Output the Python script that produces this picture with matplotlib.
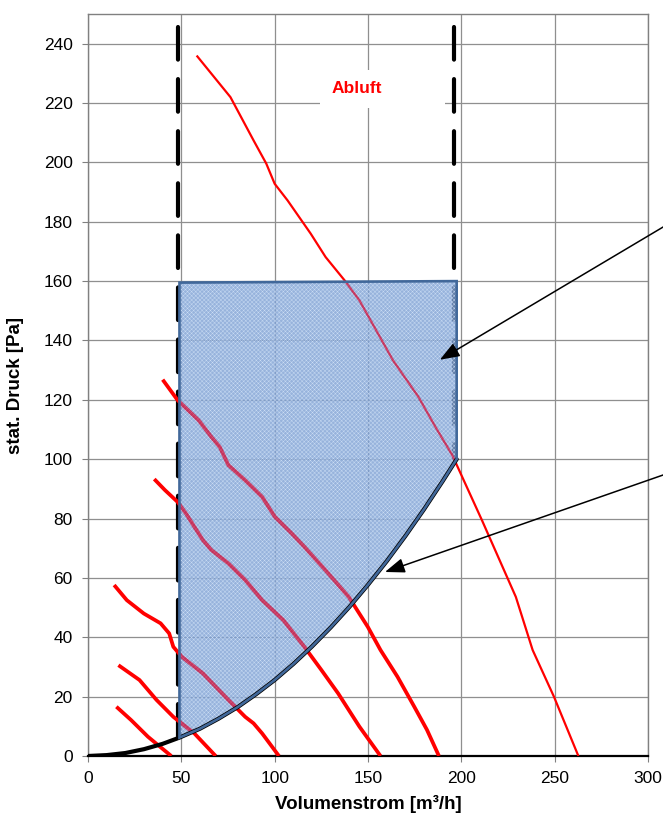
import matplotlib
matplotlib.use("Agg")
import matplotlib.pyplot as plt
from matplotlib.patches import Polygon, Rectangle
import numpy as np

plt.rcParams['font.family'] = ['Liberation Sans', 'DejaVu Sans']
plt.rcParams['lines.scale_dashes'] = False

# ---------------- data ----------------
x_ticks = [0, 50, 100, 150, 200, 250, 300]
y_ticks = [0, 20, 40, 60, 80, 100, 120, 140, 160, 180, 200, 220, 240]

# system curve (black)
sys_x = [0, 10, 20, 30, 40, 49, 60, 70, 80, 90, 100, 110, 120, 130, 140, 150, 160, 170, 180, 190, 197.5]
sys_y = [0, 0.3, 1.0, 2.3, 4.1, 6.2, 9.2, 12.6, 16.4, 20.8, 25.6, 31.0, 36.9, 43.3, 50.2, 57.7, 65.6, 74.1, 83.1, 92.6, 100]

# fan curves (red)
fan1_x = [58.2, 76.3, 88.7, 95.5, 100, 106.9, 119.3, 127.3, 137.4, 145.4, 154.4, 163.4, 177, 186.1, 195.2, 211, 229.2, 238.2, 249.6, 262.7]
fan1_y = [236, 222, 207.4, 199.6, 192.8, 187.2, 176, 168.1, 160.3, 153.5, 143.4, 133.3, 121, 110.9, 101.3, 79.5, 53.6, 35.7, 20, 0]

fan2_x = [40, 48, 59.3, 66.1, 70.6, 75.2, 84.2, 93.3, 100.1, 109.1, 115.9, 127.2, 139.7, 149.9, 156.7, 165.8, 174.8, 181.6, 188]
fan2_y = [126.8, 119.9, 113.1, 107.5, 104.1, 98, 92.9, 87.3, 80.6, 75, 70.5, 62.6, 53.6, 43.5, 35.7, 26.7, 16.6, 8.8, 0]

fan3_x = [35.5, 41.2, 48, 52.5, 57, 61.6, 66.1, 75.2, 84.2, 93.3, 104.6, 115.9, 125, 134, 145.4, 156.7]
fan3_y = [93.3, 89.6, 85.6, 81.7, 77.2, 72.7, 69.4, 64.9, 59.3, 52.5, 45.8, 36.8, 29, 21.1, 9.9, 0]

fan4_x = [14, 20.8, 29.9, 38.9, 43.5, 45.7, 50.3, 61.6, 75.2, 84.2, 88.7, 93.3, 102.3]
fan4_y = [57.6, 52.5, 48, 44.7, 41.3, 36.8, 33.4, 27.8, 18.9, 13.2, 11, 7.6, 0]

fan5_x = [16.3, 27.6, 36.7, 45.7, 57, 68.4]
fan5_y = [30.6, 25.6, 18.9, 13.2, 7.6, 0]

fan6_x = [15.2, 23.1, 32.1, 44.6]
fan6_y = [16.6, 12.1, 6.5, 0]

# operating range limits
q_min, q_max = 49, 197.5
dash_min, dash_max = 48, 196.3
p_top_left, p_top_right = 159.5, 160
dash_top = 245.5

# ---------------- figure ----------------
fig = plt.figure(figsize=(6.63, 8.15), dpi=100)
ax = fig.add_axes([88 / 663, 1 - 756 / 815, (648 - 88) / 663, (756 - 14) / 815])
ax.set_xlim(0, 300)
ax.set_ylim(0, 250)
ax.set_xticks(x_ticks)
ax.set_yticks(y_ticks)
ax.tick_params(axis='both', labelsize=12.5, length=4, width=0.8, color='#808080', pad=7)
ax.grid(True, color='#8F8F8F', lw=0.9, zorder=0)
ax.set_axisbelow(True)
for s in ['left', 'top', 'right']:
    ax.spines[s].set_color('#808080')
    ax.spines[s].set_linewidth(1.0)
ax.spines['bottom'].set_color('black')
ax.spines['bottom'].set_linewidth(1.6)

ax.set_xlabel('Volumenstrom [m³/h]', fontsize=13.5, fontweight='bold', labelpad=6)
ax.set_ylabel('stat. Druck [Pa]', fontsize=13.5, fontweight='bold', labelpad=14)

# white label box + text
ax.add_patch(Rectangle((124.3, 218.2), 66.9, 12.8, facecolor='white', edgecolor='none', zorder=1))
ax.text(144, 224.9, 'Abluft', color='red', fontsize=12.5, fontweight='bold', ha='center', va='center', zorder=2)

# dashed limit lines
for xd, ybot in [(dash_min, 6.0), (dash_max, 100)]:
    ax.plot([xd, xd], [dash_top, ybot], color='black', lw=3, dashes=(23.5, 14),
            dash_capstyle='round', zorder=2.5)

# red fan curves (full)
fans = [(fan1_x, fan1_y, 1.6), (fan2_x, fan2_y, 2.7), (fan3_x, fan3_y, 2.7),
        (fan4_x, fan4_y, 2.7), (fan5_x, fan5_y, 2.7), (fan6_x, fan6_y, 2.7)]
for fx, fy, lw in fans:
    ax.plot(fx, fy, color='red', lw=lw, zorder=2.6, solid_capstyle='butt', solid_joinstyle='round')

# operating polygon built from the system curve
sx = np.array(sys_x)
sy = np.array(sys_y)
mask = (sx > q_min) & (sx < q_max)
poly = [(q_min, np.interp(q_min, sx, sy)), (q_min, p_top_left), (q_max, p_top_right),
        (q_max, np.interp(q_max, sx, sy))]
poly += list(zip(sx[mask][::-1], sy[mask][::-1]))

fill = Polygon(poly, closed=True, facecolor=(125 / 255, 160 / 255, 212 / 255), alpha=0.8,
               edgecolor='none', zorder=3)
ax.add_patch(fill)
plt.rcParams['hatch.linewidth'] = 0.3
hatch = Polygon(poly, closed=True, facecolor='none', edgecolor=(0.80, 0.87, 0.96),
                hatch='xxxxxxxx', lw=0, zorder=3.1)
ax.add_patch(hatch)

# muted red over the fill (clipped to polygon)
for fx, fy, lw in fans:
    ln, = ax.plot(fx, fy, color='#E0002A', lw=lw, alpha=0.6, zorder=3.5, solid_joinstyle='round')
    ln.set_clip_path(fill)

# system curve
ax.plot(sys_x, sys_y, color='black', lw=3.0, zorder=4, solid_capstyle='round')

# polygon edge
edge = Polygon(poly, closed=True, facecolor='none', edgecolor='#41689A', lw=1.9, zorder=5,
               joinstyle='miter')
ax.add_patch(edge)

# annotation arrows
arrow_kw = dict(arrowstyle='-|>,head_length=0.8,head_width=0.3', color='black', lw=1.1,
                mutation_scale=15, shrinkA=0, shrinkB=0)
ax.annotate('', xy=(188.5, 133.5), xytext=(327.8, 185.6), arrowprops=arrow_kw,
            annotation_clip=False, zorder=6)
ax.annotate('', xy=(159.1, 62.0), xytext=(327.8, 99.0), arrowprops=arrow_kw,
            annotation_clip=False, zorder=6)

fig.savefig('out.png', dpi=100)
